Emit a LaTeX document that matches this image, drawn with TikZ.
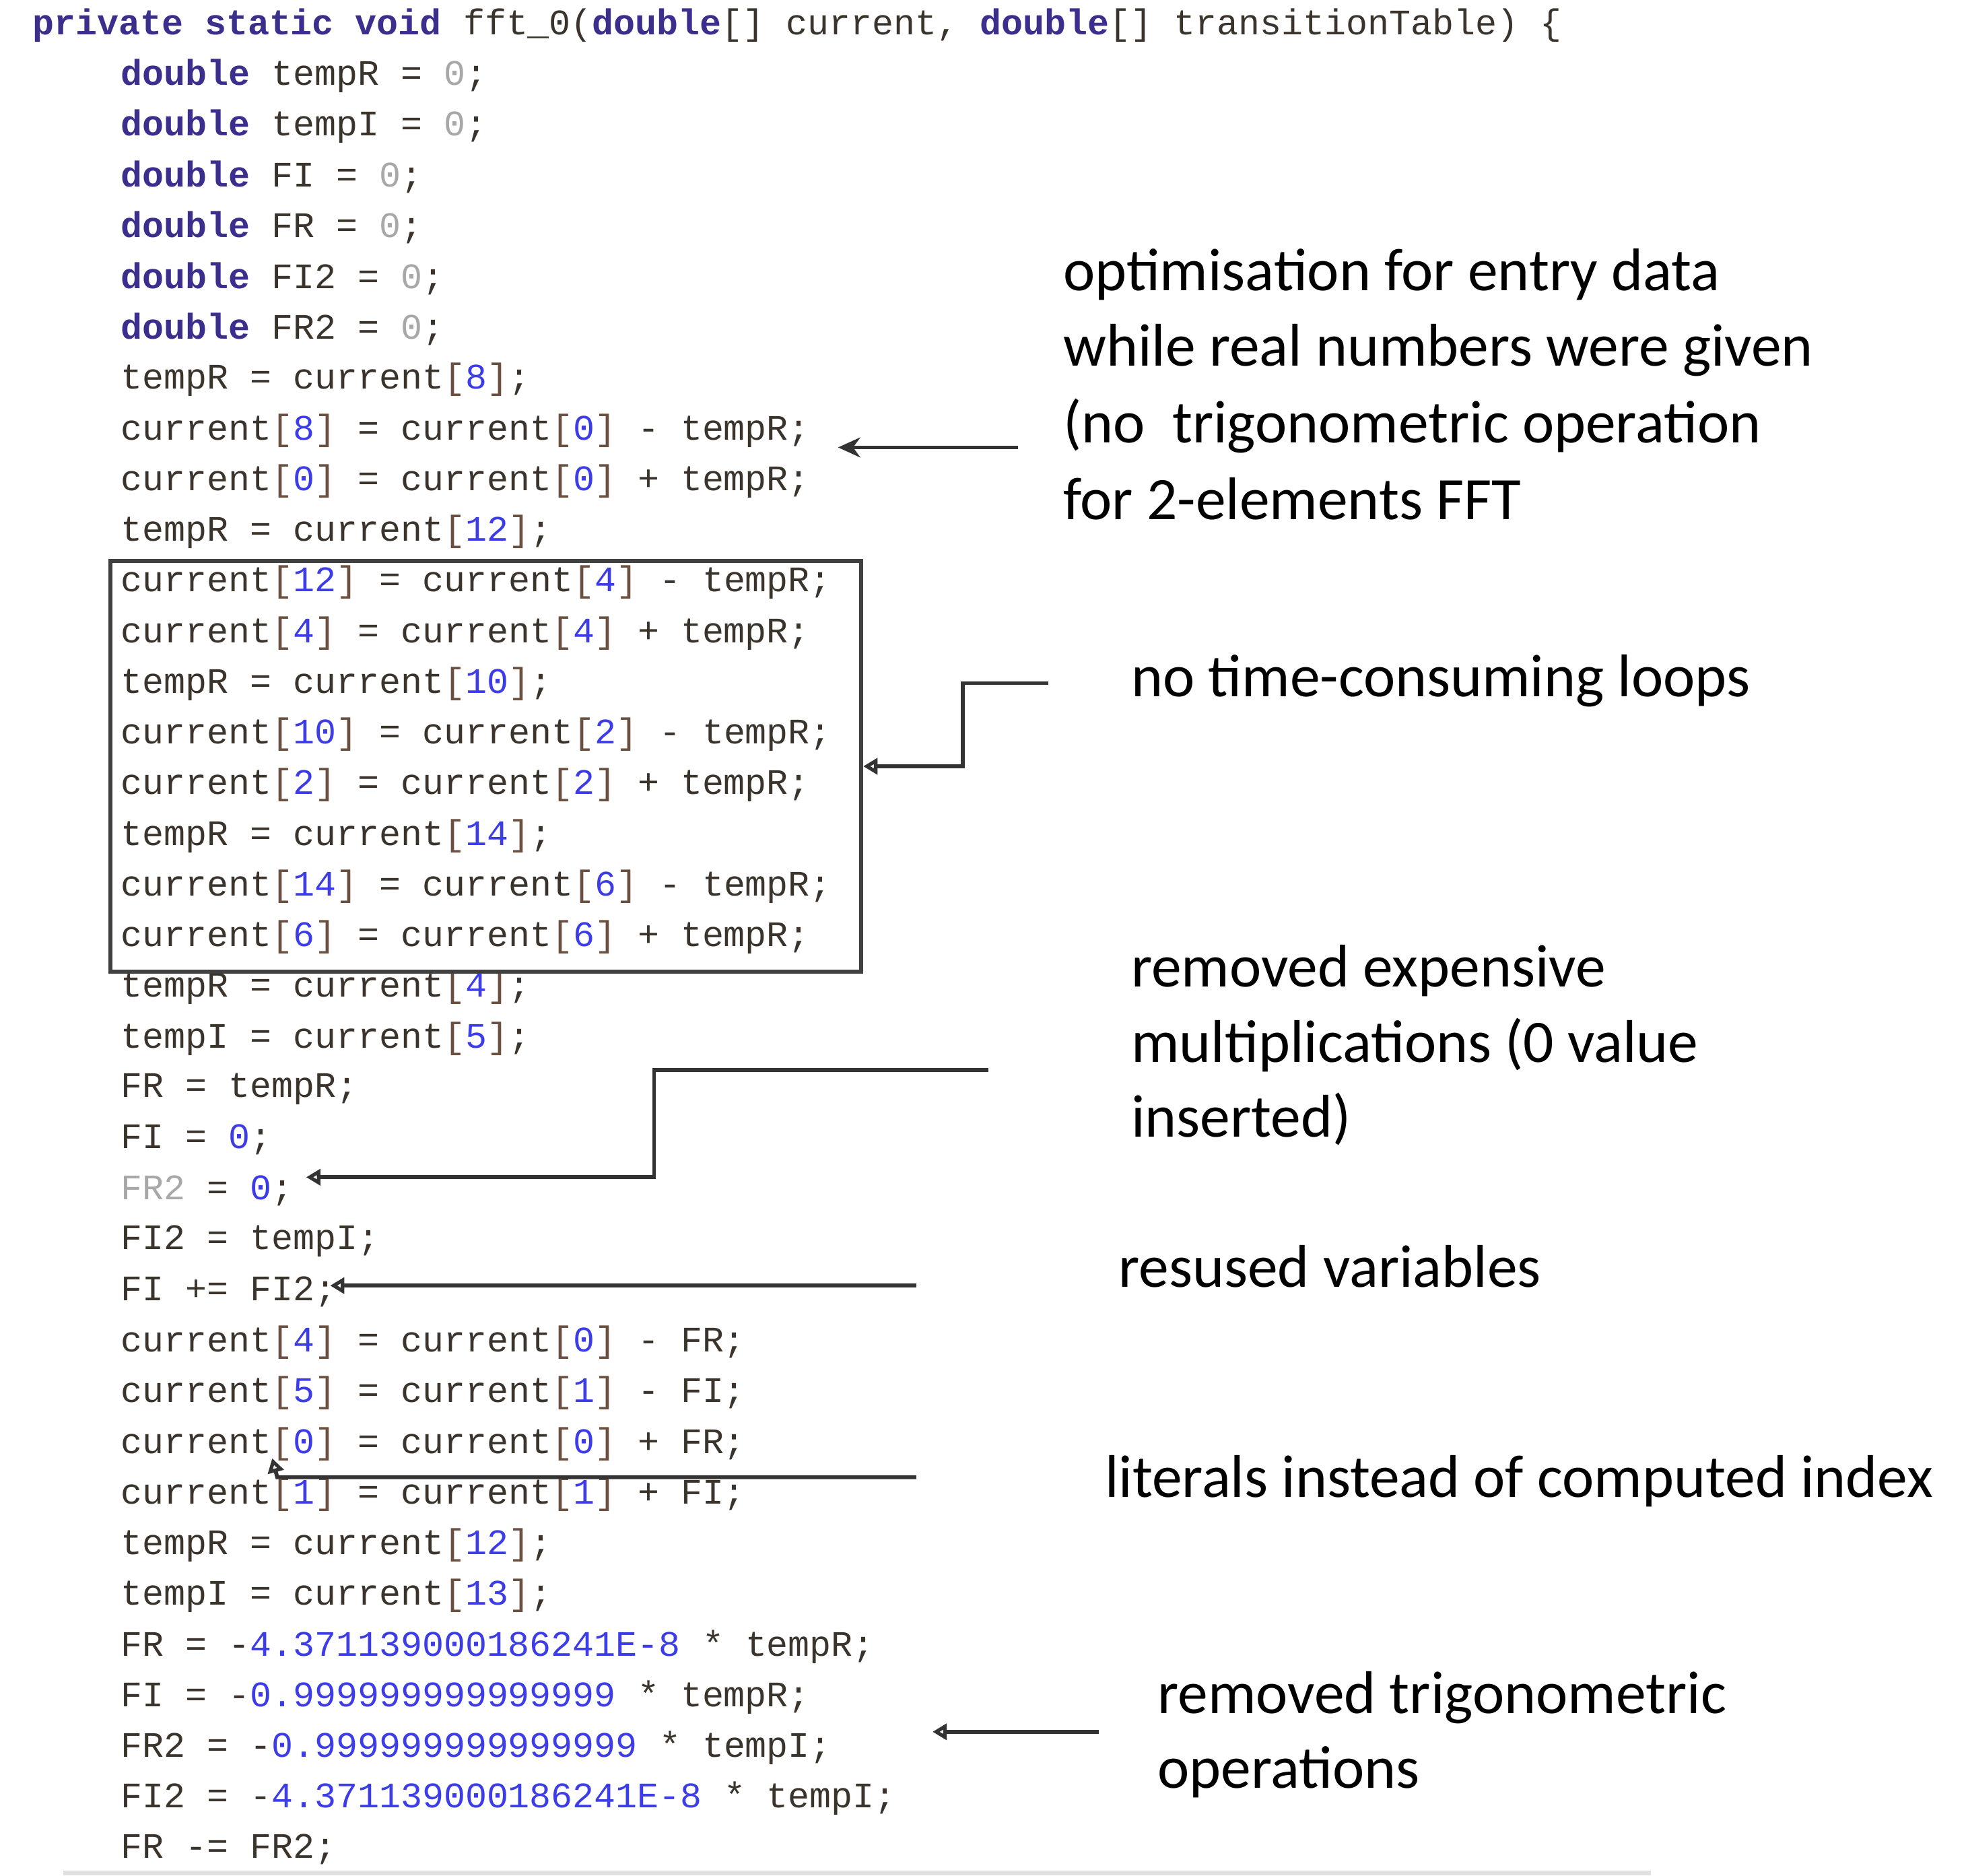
\documentclass[tikz,border=0pt]{standalone}
\usepackage{fontspec}
\setmainfont{Carlito}
\setmonofont{Liberation Mono}
\usetikzlibrary{arrows.meta}
\definecolor{kwc}{HTML}{3B2E8C}
\definecolor{txc}{HTML}{3A342C}
\definecolor{nmc}{HTML}{3C3CE8}
\definecolor{zrc}{HTML}{A8A8A8}
\definecolor{brc}{HTML}{6A5040}
\newcommand{\kwd}[1]{{\bfseries\color{kwc}#1}}
\newcommand{\num}[1]{{\color{nmc}#1}}
\newcommand{\zer}{{\color{zrc}0}}
\newcommand{\cur}[1]{current{\color{brc}[}\num{#1}{\color{brc}]}}
\begin{document}
\begin{tikzpicture}[x=0.01cm,y=-0.01cm,
  code/.style={anchor=west,inner sep=0pt,font=\ttfamily\fontsize{8.1}{9}\selectfont,text=txc},
  note/.style={anchor=west,inner sep=0pt,font=\fontsize{13.6}{16}\selectfont,text=black},
  conn/.style={draw=black!80,line width=0.9pt},
  otip/.style={conn,-{Triangle[open,length=3.2pt,width=3.6pt]}}]
\useasboundingbox (0,0) rectangle (1560,1488.4);
\def\L#1{\fpeval{20+40.2*#1}}
\node[code] (l0) at (25,\L{0}) {\kwd{private static void} fft\_0(\kwd{double}[] current, \kwd{double}[] transitionTable) \{};
\node[code] (l1) at (95,\L{1}) {\kwd{double} tempR = \zer;};
\node[code] (l2) at (95,\L{2}) {\kwd{double} tempI = \zer;};
\node[code] (l3) at (95,\L{3}) {\kwd{double} FI = \zer;};
\node[code] (l4) at (95,\L{4}) {\kwd{double} FR = \zer;};
\node[code] (l5) at (95,\L{5}) {\kwd{double} FI2 = \zer;};
\node[code] (l6) at (95,\L{6}) {\kwd{double} FR2 = \zer;};
\node[code] (l7) at (95,\L{7}) {tempR = \cur{8};};
\node[code] (l8) at (95,\L{8}) {\cur{8} = \cur{0} - tempR;};
\node[code] (l9) at (95,\L{9}) {\cur{0} = \cur{0} + tempR;};
\node[code] (l10) at (95,\L{10}) {tempR = \cur{12};};
\node[code] (l11) at (95,\L{11}) {\cur{12} = \cur{4} - tempR;};
\node[code] (l12) at (95,\L{12}) {\cur{4} = \cur{4} + tempR;};
\node[code] (l13) at (95,\L{13}) {tempR = \cur{10};};
\node[code] (l14) at (95,\L{14}) {\cur{10} = \cur{2} - tempR;};
\node[code] (l15) at (95,\L{15}) {\cur{2} = \cur{2} + tempR;};
\node[code] (l16) at (95,\L{16}) {tempR = \cur{14};};
\node[code] (l17) at (95,\L{17}) {\cur{14} = \cur{6} - tempR;};
\node[code] (l18) at (95,\L{18}) {\cur{6} = \cur{6} + tempR;};
\node[code] (l19) at (95,\L{19}) {tempR = \cur{4};};
\node[code] (l20) at (95,\L{20}) {tempI = \cur{5};};
\node[code] (l21) at (95,\L{21}) {FR = tempR;};
\node[code] (l22) at (95,\L{22}) {FI = \num{0};};
\node[code] (l23) at (95,\L{23}) {{\color{zrc}FR2} = \num{0};};
\node[code] (l24) at (95,\L{24}) {FI2 = tempI;};
\node[code] (l25) at (95,\L{25}) {FI += FI2;};
\node[code] (l26) at (95,\L{26}) {\cur{4} = \cur{0} - FR;};
\node[code] (l27) at (95,\L{27}) {\cur{5} = \cur{1} - FI;};
\node[code] (l28) at (95,\L{28}) {\cur{0} = \cur{0} + FR;};
\node[code] (l29) at (95,\L{29}) {\cur{1} = \cur{1} + FI;};
\node[code] (l30) at (95,\L{30}) {tempR = \cur{12};};
\node[code] (l31) at (95,\L{31}) {tempI = \cur{13};};
\node[code] (l32) at (95,\L{32}) {FR = -\num{4.371139000186241E-8} * tempR;};
\node[code] (l33) at (95,\L{33}) {FI = -\num{0.999999999999999} * tempR;};
\node[code] (l34) at (95,\L{34}) {FR2 = -\num{0.999999999999999} * tempI;};
\node[code] (l35) at (95,\L{35}) {FI2 = -\num{4.371139000186241E-8} * tempI;};
\node[code] (l36) at (95,\L{36}) {FR -= FR2;};
% box
\node[draw=black!75,line width=0.9pt,inner sep=0pt,minimum width=5.95cm,minimum height=3.26cm] (box) at (385.5,608) {};
\coordinate (boxr) at (685,608);
% notes
\node[note] (n1a) at (843,218) {optimisation for entry data};
\node[note] (n1b) at (843,278) {while real numbers were given};
\node[note] (n1c) at (843,338) {(no\ \ trigonometric operation};
\node[note] (n1d) at (843,396) {for 2-elements FFT};
\node[note] (n2) at (897,540) {no time-consuming loops};
\node[note] (n3a) at (897,770) {removed expensive};
\node[note] (n3b) at (897,829) {multiplications (0 value};
\node[note] (n3c) at (897,888) {inserted)};
\node[note] (n4) at (887,1005) {resused variables};
\node[note] (n5) at (876,1175) {literals instead of computed index};
\node[note] (n6a) at (918,1347) {removed trigonometric};
\node[note] (n6b) at (918,1406) {operations};
% connectors
\coordinate (a1s) at (808,355); \coordinate (a1e) at (665,355);
\draw[conn,-{Stealth[length=5pt,width=4.5pt]}] (a1s) -- (a1e);
\coordinate (a2s) at (832,542);
\draw[otip] (a2s) -- (764,542) -- (764,608) -- (boxr);
\coordinate (a3s) at (784,849); \coordinate (a3e) at (243,934);
\draw[otip] (a3s) -- (519,849) -- (519,934) -- (a3e);
\coordinate (a4s) at (727,1020); \coordinate (a4e) at (262,1020);
\draw[otip] (a4s) -- (a4e);
\coordinate (a5s) at (727,1172); \coordinate (a5e) at (216,1157);
\draw[otip] (a5s) -- (220,1172) -- (a5e);
\coordinate (a6s) at (872,1374); \coordinate (a6e) at (740,1374);
\draw[otip] (a6s) -- (a6e);
% bottom rule
\draw[black!12,line width=1.2pt] (50,1486) -- (1310,1486);
\end{tikzpicture}
\end{document}
